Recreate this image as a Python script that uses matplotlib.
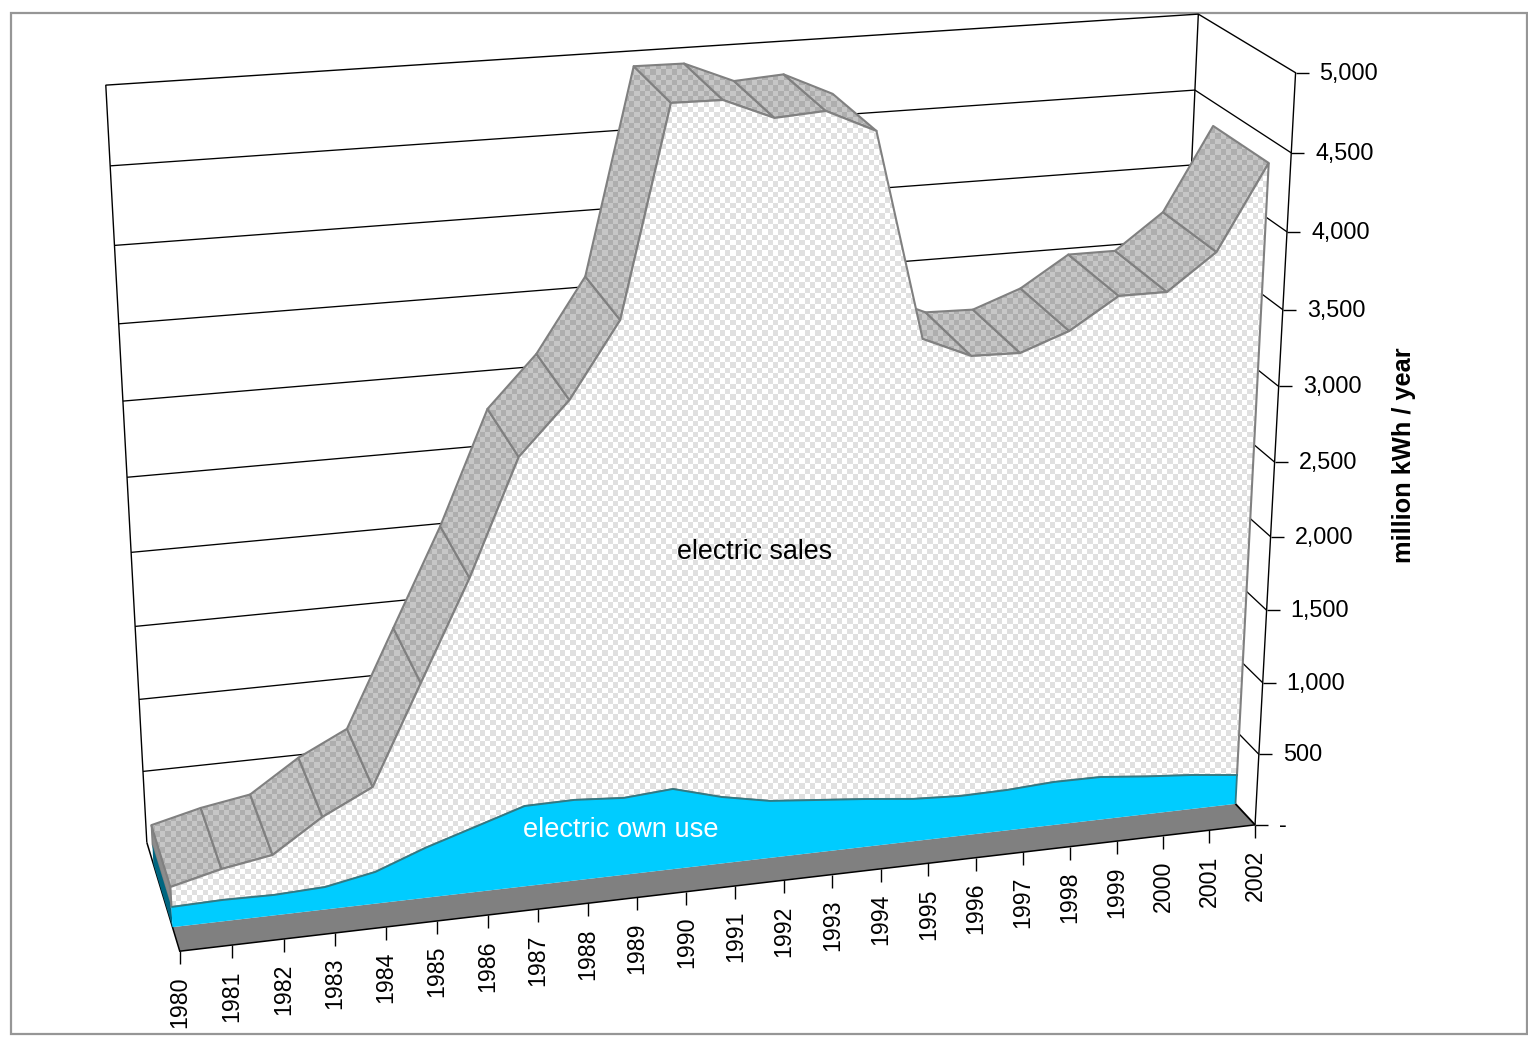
import numpy as np
import matplotlib
matplotlib.use('Agg')
import matplotlib.pyplot as plt
from matplotlib.patches import Polygon, Rectangle

plt.rcParams['font.family'] = ['Liberation Sans', 'DejaVu Sans']

years = [str(y) for y in range(1980, 2003)]
electric_own_use = [137, 145, 139, 153, 217, 342, 447, 552, 556, 532, 556, 463,
                    398, 367, 336, 299, 282, 287, 306, 304, 271, 244, 207]
electric_sales = [136, 210, 272, 477, 577, 1111, 1663, 2309, 2639, 3141, 4432, 4521,
                  4455, 4507, 4393, 3094, 2974, 2961, 3058, 3261, 3294, 3555, 4140]
value_ticks = [0, 500, 1000, 1500, 2000, 2500, 3000, 3500, 4000, 4500, 5000]
value_labels = ['-', '500', '1,000', '1,500', '2,000', '2,500', '3,000', '3,500',
                '4,000', '4,500', '5,000']

W, H = 1528, 1037
VMAX = 5000
XMAX = len(years) - 1

# Camera calibration: chart box corners (category, value, depth) -> pixel
box_pts = [(0, 0, 0), (22, 0, 0), (22, 5000, 0), (22, 5000, 1), (0, 5000, 1), (0, 0, 1),
           (22, 500, 0), (0, 500, 1), (22, 4500, 0), (22, 4500, 1), (0, 4500, 1)]
pix_pts = [(179.5, 951), (1255, 825), (1296, 73), (1198, 13), (106, 85), (147, 843),
           (1259, 754), (143, 771), (1291, 153), (1195, 91), (110, 166)]
rows = []
for (cx, cv, cz), (pu, pw) in zip(box_pts, pix_pts):
    cv = cv / 1000
    rows.append([cx, cv, cz, 1, 0, 0, 0, 0, -pu * cx, -pu * cv, -pu * cz, -pu])
    rows.append([0, 0, 0, 0, cx, cv, cz, 1, -pw * cx, -pw * cv, -pw * cz, -pw])
P = np.linalg.svd(np.array(rows))[2][-1].reshape(3, 4)


def project(x, v, z):
    q = P @ np.array([x, v / 1000, z, 1.0])
    return q[0] / q[2], q[1] / q[2]


def depth_for(x, v, w):
    r1, r3 = P[1], P[2]
    v = v / 1000
    return -((r1[0] - w * r3[0]) * x + (r1[1] - w * r3[1]) * v + (r1[3] - w * r3[3])) / (r1[2] - w * r3[2])


own = np.array(electric_own_use, float)
total = own + np.array(electric_sales, float)
zf = (depth_for(0, 0, 927) + depth_for(22, 0, 804)) / 2
zb = np.mean([depth_for(10, total[10], 66.5), depth_for(22, total[22], 126),
              depth_for(0, total[0], 825.5), depth_for(17, total[17], 309)])

fig = plt.figure(figsize=(W / 100, H / 100), dpi=100, facecolor='white')
ax = fig.add_axes([0, 0, 1, 1])
ax.set_xlim(0, W)
ax.set_ylim(H, 0)
ax.axis('off')


def checker(c1, c2, cell=5.33):
    ny, nx = int(H / cell) + 1, int(W / cell) + 1
    yy, xx = np.mgrid[0:ny, 0:nx]
    m = (xx + yy) % 2
    c1 = np.array(matplotlib.colors.to_rgb(c1))
    c2 = np.array(matplotlib.colors.to_rgb(c2))
    return (c1 * m[..., None] + c2 * (1 - m[..., None])), (0, nx * cell, ny * cell, 0)


def fill_checker(pts, tex, z):
    img, ext = tex
    poly = Polygon(pts, closed=True, facecolor='none', edgecolor='none', zorder=z)
    ax.add_patch(poly)
    im = ax.imshow(img, extent=ext, interpolation='nearest', aspect='auto', zorder=z)
    im.set_clip_path(poly)
    ax.set_xlim(0, W)
    ax.set_ylim(H, 0)


def line(pts, color='black', lw=0.95, z=2):
    xs, ys = zip(*pts)
    ax.plot(xs, ys, color=color, lw=lw, zorder=z, solid_capstyle='butt', solid_joinstyle='miter')


def faces_viewer(q):
    (x0, y0), (x1, y1), (x2, y2) = q[0], q[1], q[2]
    return (x1 - x0) * (y2 - y1) - (y1 - y0) * (x2 - x1) > 0


# Outer frame
ax.add_patch(Rectangle((10.5, 12.5), 1516, 1021, fill=False, edgecolor='#969696', lw=1.6, zorder=1))

# Walls and gridlines
line([project(0, 0, 1), project(0, VMAX, 1), project(22, VMAX, 1), project(22, 0, 1)], lw=1.0)
line([project(22, VMAX, 1), project(22, VMAX, 0), project(22, 0, 0)], lw=1.0)
for v in value_ticks[1:-1]:
    line([project(0, v, 1), project(22, v, 1), project(22, v, 0)], lw=0.95)

# Floor
floor = [project(0, 0, 1), project(0, 0, 0), project(22, 0, 0), project(22, 0, zf), project(0, 0, zf)]
ax.add_patch(Polygon(floor, closed=True, facecolor='#808080', edgecolor='none', zorder=3))
line([project(0, 0, 1), project(0, 0, 0), project(22, 0, 0)], lw=1.1, z=4)
line([project(22, 0, 0), project(22, 0, zf)], lw=1.3, z=4)

# Category axis ticks and labels
for i, lab in enumerate(years):
    px, py = project(i, 0, 0)
    line([(px, py), (px, py + 13)], lw=1.0, z=4)
    ax.text(px, py + 25, lab, rotation=90, ha='center', va='top', fontsize=16.7, color='black')

# Value axis ticks and labels
for v, lab in zip(value_ticks, value_labels):
    px, py = project(22, v, 0)
    line([(px, py), (px + 13, py)], lw=1.0, z=4)
    ax.text(px + 24, py + 0.5, lab, ha='left', va='center', fontsize=16.8, color='black')

ax.text(1404, 455, 'million kWh / year', rotation=90, ha='center', va='center',
        fontsize=18.3, fontweight='bold', color='black')

# Left end caps
side_sales = [project(0, total[0], zb), project(0, total[0], zf), project(0, own[0], zf), project(0, own[0], zb)]
ax.add_patch(Polygon(side_sales, closed=True, facecolor='#8c8c8c', edgecolor='#808080', lw=1.0, zorder=5))
side_own = [project(0, own[0], zb), project(0, own[0], zf), project(0, 0, zf), project(0, 0, zb)]
ax.add_patch(Polygon(side_own, closed=True, facecolor='#006680', edgecolor='none', zorder=5))

# Top band of the stack (segments turned away from the viewer are not drawn)
band_tex = checker('#aeaeae', '#c6c6c6')
for i in range(XMAX):
    quad = [project(i, total[i], zb), project(i + 1, total[i + 1], zb),
            project(i + 1, total[i + 1], zf), project(i, total[i], zf)]
    if not faces_viewer(quad):
        continue
    fill_checker(quad, band_tex, 6 + i * 0.01)
    ax.add_patch(Polygon(quad, closed=True, facecolor='none', edgecolor='#808080', lw=1.5,
                         joinstyle='round', zorder=6 + i * 0.01 + 0.005))

# Front faces
sales_face = [project(i, total[i], zf) for i in range(XMAX + 1)] + \
             [project(i, own[i], zf) for i in range(XMAX, -1, -1)]
fill_checker(sales_face, checker('#e0e0e0', '#ffffff'), 8)
ax.add_patch(Polygon(sales_face, closed=True, facecolor='none', edgecolor='#808080', lw=1.5, zorder=8.1))

own_face = [project(i, own[i], zf) for i in range(XMAX + 1)] + [project(22, 0, zf), project(0, 0, zf)]
ax.add_patch(Polygon(own_face, closed=True, facecolor='#00CCFF', edgecolor='none', zorder=8.2))
line([project(i, own[i], zf) for i in range(XMAX + 1)] + [project(22, 0, zf)],
     color='#2f7a85', lw=1.3, z=8.3)

ax.text(755, 552, 'electric sales', ha='center', va='center', fontsize=19.4, color='black', zorder=10)
ax.text(621, 830, 'electric own use', ha='center', va='center', fontsize=19.6, color='white', zorder=10)

fig.savefig('out.png', dpi=100, facecolor='white')
